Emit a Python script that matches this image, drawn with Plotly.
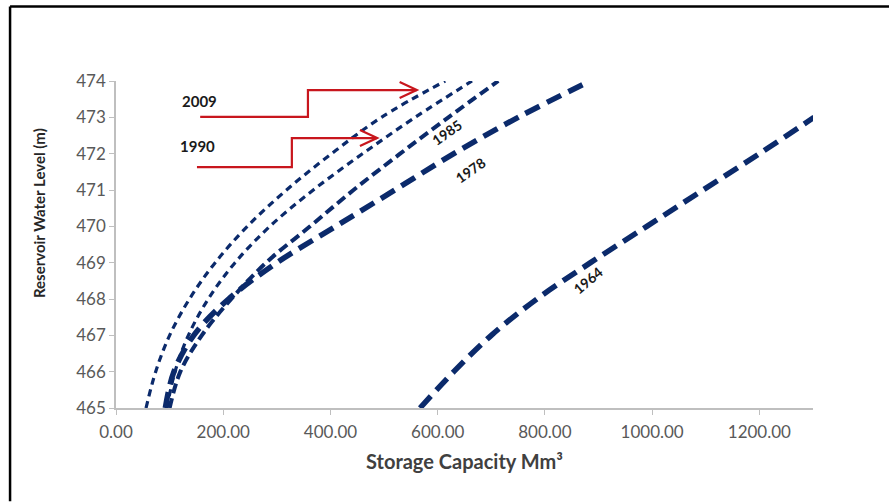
import plotly.graph_objects as go

# Water levels (m)
levels = [465, 466, 467, 468, 469, 470, 471, 472, 473, 474]
levels_1964 = [465, 466, 467, 468, 469, 470, 471, 472, 473]

# Storage capacity (Mm3) per survey year
cap_2009 = [56, 74, 100, 137, 185, 245, 318, 402, 495, 614]
cap_1990 = [95, 110, 135, 172, 222, 287, 368, 460, 558, 664]
cap_1985 = [100, 120, 160, 215, 280, 362, 443, 530, 620, 713]
cap_1978 = [92, 108, 145, 210, 300, 410, 520, 630, 750, 884]
cap_1964 = [567, 630, 700, 785, 885, 990, 1095, 1200, 1302]

x_ticks = [0, 200, 400, 600, 800, 1000, 1200]
y_ticks = [465, 466, 467, 468, 469, 470, 471, 472, 473, 474]

NAVY = "#0b2a6b"
RED = "#c8161d"
FONT = "Lato, Liberation Sans, sans-serif"

fig = go.Figure()

series = [
    ("2009", cap_2009, levels, 3.2, "7px,5px"),
    ("1990", cap_1990, levels, 3.2, "7px,5px"),
    ("1985", cap_1985, levels, 4, "10px,5px"),
    ("1978", cap_1978, levels, 5.5, "16px,8px"),
    ("1964", cap_1964, levels_1964, 5.5, "16px,8px"),
]
for name, xs, ys, w, dash in series:
    fig.add_trace(go.Scatter(
        x=xs, y=ys, mode="lines", name=name,
        line=dict(color=NAVY, width=w, dash=dash, shape="spline", smoothing=1.0),
        showlegend=False, hoverinfo="skip",
    ))

# red step arrows (data coords)
arrows = [
    # (x_start, y_low, x_step, y_high, x_tip)
    (157, 473.01, 358, 473.75, 561),
    (151, 471.63, 328, 472.43, 487),
]
for x0, ylo, xs, yhi, xt in arrows:
    fig.add_shape(type="path",
                  path=f"M {x0},{ylo} L {xs},{ylo} L {xs},{yhi} L {xt},{yhi}",
                  xref="x", yref="y", line=dict(color=RED, width=2.2))
    fig.add_shape(type="path",
                  path=f"M {xt-32},{yhi+0.22} L {xt},{yhi} L {xt-32},{yhi-0.22}",
                  xref="x", yref="y", line=dict(color=RED, width=2.2))

# year labels next to arrows
for t, x, y in [("2009", 119, 473.45), ("1990", 116, 472.2)]:
    fig.add_annotation(x=x, y=y, text=f"<b>{t}</b>", showarrow=False,
                       xanchor="left", yanchor="middle",
                       font=dict(family=FONT, size=15, color="#1a1a1a"))

curve_labels = [
    ("1985", 617, 472.57, -35),
    ("1978", 660, 471.55, -35),
    ("1964", 880, 468.5, -40),
]
for t, x, y, a in curve_labels:
    fig.add_annotation(x=x, y=y, text=f"<b>{t}</b>", showarrow=False,
                       textangle=a, font=dict(family=FONT, size=14, color="#1a1a1a"))

# axis titles
fig.add_annotation(xref="paper", yref="paper", x=-0.1105, y=0.596,
                   xanchor="center", yanchor="middle",
                   text="<b>Reservoir Water Level (m)</b>", textangle=-90,
                   showarrow=False, font=dict(family=FONT, size=15, color="#262626"))
fig.add_annotation(xref="paper", yref="paper", x=0.5007, y=-0.162,
                   xanchor="center", yanchor="middle",
                   text="<b>Storage Capacity Mm³</b>",
                   showarrow=False, font=dict(family=FONT, size=20, color="#404040"))

# outer frame (top and left black lines)
fig.add_shape(type="line", xref="paper", yref="paper",
              x0=-0.152, x1=1.12, y0=1.228, y1=1.228,
              line=dict(color="black", width=2.5))
fig.add_shape(type="line", xref="paper", yref="paper",
              x0=-0.152, x1=-0.152, y0=1.228, y1=-0.285,
              line=dict(color="black", width=2.5))

fig.update_layout(
    width=889, height=504,
    margin=dict(l=116, r=76, t=81, b=96),
    paper_bgcolor="white", plot_bgcolor="white",
    font=dict(family=FONT),
    xaxis=dict(
        range=[0, 1300], tickvals=x_ticks, tickformat=".2f",
        showgrid=False, zeroline=False, showline=True,
        linecolor="#bfbfbf", linewidth=1.5,
        ticks="outside", ticklen=5, tickcolor="#bfbfbf",
        ticklabelstandoff=3,
        tickfont=dict(family=FONT, size=17, color="#595959"),
    ),
    yaxis=dict(
        range=[465, 474], tickvals=y_ticks,
        showgrid=False, zeroline=False, showline=True,
        linecolor="#bfbfbf", linewidth=1.5,
        ticks="outside", ticklen=5, tickcolor="#bfbfbf",
        tickfont=dict(family=FONT, size=17, color="#595959"),
    ),
)

fig.write_html("out.html")
